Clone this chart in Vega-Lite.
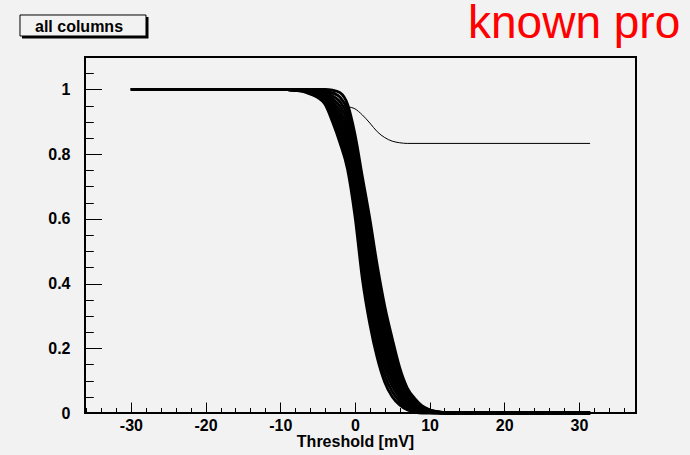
{
  "$schema": "https://vega.github.io/schema/vega-lite/v6.json",
  "width": 551,
  "height": 356,
  "autosize": {"type": "none"},
  "padding": {"left": 85, "top": 57, "right": 54, "bottom": 42},
  "background": "#f2f2f2",
  "config": {
    "view": {"stroke": "black", "strokeWidth": 2, "fill": "#f2f2f2"},
    "axis": {
      "grid": false, "domainColor": "black", "domainWidth": 1,
      "tickColor": "black", "tickWidth": 1,
      "labelFont": "Liberation Sans", "labelFontWeight": "bold", "labelFontSize": 16, "labelColor": "black",
      "titleFont": "Liberation Sans", "titleFontWeight": "bold", "titleFontSize": 16, "titleColor": "black"
    }
  },
  "datasets": {
    "band": [
      {"c":0,"x":-30,"y":1},{"c":1,"x":-30,"y":1},{"c":2,"x":-30,"y":1},{"c":3,"x":-30,"y":1},{"c":4,"x":-30,"y":1},{"c":5,"x":-30,"y":1},{"c":6,"x":-30,"y":1},{"c":7,"x":-30,"y":1},{"c":8,"x":-30,"y":1},{"c":9,"x":-30,"y":1},{"c":10,"x":-30,"y":1},{"c":11,"x":-30,"y":1},
      {"c":0,"x":-10,"y":1},{"c":1,"x":-10,"y":1},{"c":2,"x":-10,"y":1},{"c":3,"x":-10,"y":1},{"c":4,"x":-10,"y":1},{"c":5,"x":-10,"y":1},{"c":6,"x":-10,"y":1},{"c":7,"x":-10,"y":1},{"c":8,"x":-10,"y":1},{"c":9,"x":-10,"y":1},{"c":10,"x":-10,"y":1},{"c":11,"x":-10,"y":1},
      {"c":0,"x":-9,"y":0.999},{"c":1,"x":-9,"y":0.999},{"c":2,"x":-9,"y":0.999},{"c":3,"x":-9,"y":0.999},{"c":4,"x":-9,"y":0.999},{"c":5,"x":-9,"y":0.999},{"c":6,"x":-9,"y":1},{"c":7,"x":-9,"y":1},{"c":8,"x":-9,"y":1},{"c":9,"x":-9,"y":1},{"c":10,"x":-9,"y":1},{"c":11,"x":-9,"y":1},
      {"c":0,"x":-8,"y":0.997},{"c":1,"x":-8,"y":0.997},{"c":2,"x":-8,"y":0.998},{"c":3,"x":-8,"y":0.998},{"c":4,"x":-8,"y":0.998},{"c":5,"x":-8,"y":0.998},{"c":6,"x":-8,"y":0.999},{"c":7,"x":-8,"y":0.999},{"c":8,"x":-8,"y":0.999},{"c":9,"x":-8,"y":0.999},{"c":10,"x":-8,"y":1},{"c":11,"x":-8,"y":1},
      {"c":0,"x":-7,"y":0.994},{"c":1,"x":-7,"y":0.995},{"c":2,"x":-7,"y":0.995},{"c":3,"x":-7,"y":0.996},{"c":4,"x":-7,"y":0.996},{"c":5,"x":-7,"y":0.997},{"c":6,"x":-7,"y":0.997},{"c":7,"x":-7,"y":0.998},{"c":8,"x":-7,"y":0.998},{"c":9,"x":-7,"y":0.999},{"c":10,"x":-7,"y":0.999},{"c":11,"x":-7,"y":1},
      {"c":0,"x":-6,"y":0.986},{"c":1,"x":-6,"y":0.987},{"c":2,"x":-6,"y":0.989},{"c":3,"x":-6,"y":0.99},{"c":4,"x":-6,"y":0.991},{"c":5,"x":-6,"y":0.992},{"c":6,"x":-6,"y":0.994},{"c":7,"x":-6,"y":0.995},{"c":8,"x":-6,"y":0.996},{"c":9,"x":-6,"y":0.997},{"c":10,"x":-6,"y":0.999},{"c":11,"x":-6,"y":1},
      {"c":0,"x":-5,"y":0.975},{"c":1,"x":-5,"y":0.977},{"c":2,"x":-5,"y":0.98},{"c":3,"x":-5,"y":0.982},{"c":4,"x":-5,"y":0.984},{"c":5,"x":-5,"y":0.986},{"c":6,"x":-5,"y":0.989},{"c":7,"x":-5,"y":0.991},{"c":8,"x":-5,"y":0.993},{"c":9,"x":-5,"y":0.995},{"c":10,"x":-5,"y":0.998},{"c":11,"x":-5,"y":1},
      {"c":0,"x":-4,"y":0.954},{"c":1,"x":-4,"y":0.958},{"c":2,"x":-4,"y":0.962},{"c":3,"x":-4,"y":0.967},{"c":4,"x":-4,"y":0.971},{"c":5,"x":-4,"y":0.975},{"c":6,"x":-4,"y":0.979},{"c":7,"x":-4,"y":0.983},{"c":8,"x":-4,"y":0.988},{"c":9,"x":-4,"y":0.992},{"c":10,"x":-4,"y":0.996},{"c":11,"x":-4,"y":1},
      {"c":0,"x":-3,"y":0.9},{"c":1,"x":-3,"y":0.909},{"c":2,"x":-3,"y":0.918},{"c":3,"x":-3,"y":0.927},{"c":4,"x":-3,"y":0.936},{"c":5,"x":-3,"y":0.945},{"c":6,"x":-3,"y":0.953},{"c":7,"x":-3,"y":0.962},{"c":8,"x":-3,"y":0.971},{"c":9,"x":-3,"y":0.98},{"c":10,"x":-3,"y":0.989},{"c":11,"x":-3,"y":0.998},
      {"c":0,"x":-2,"y":0.835},{"c":1,"x":-2,"y":0.849},{"c":2,"x":-2,"y":0.863},{"c":3,"x":-2,"y":0.877},{"c":4,"x":-2,"y":0.891},{"c":5,"x":-2,"y":0.906},{"c":6,"x":-2,"y":0.92},{"c":7,"x":-2,"y":0.934},{"c":8,"x":-2,"y":0.948},{"c":9,"x":-2,"y":0.962},{"c":10,"x":-2,"y":0.976},{"c":11,"x":-2,"y":0.99},
      {"c":0,"x":-1,"y":0.755},{"c":1,"x":-1,"y":0.773},{"c":2,"x":-1,"y":0.791},{"c":3,"x":-1,"y":0.81},{"c":4,"x":-1,"y":0.828},{"c":5,"x":-1,"y":0.846},{"c":6,"x":-1,"y":0.864},{"c":7,"x":-1,"y":0.882},{"c":8,"x":-1,"y":0.901},{"c":9,"x":-1,"y":0.919},{"c":10,"x":-1,"y":0.937},{"c":11,"x":-1,"y":0.955},
      {"c":0,"x":0,"y":0.61},{"c":1,"x":0,"y":0.633},{"c":2,"x":0,"y":0.656},{"c":3,"x":0,"y":0.679},{"c":4,"x":0,"y":0.702},{"c":5,"x":0,"y":0.725},{"c":6,"x":0,"y":0.748},{"c":7,"x":0,"y":0.77},{"c":8,"x":0,"y":0.793},{"c":9,"x":0,"y":0.816},{"c":10,"x":0,"y":0.839},{"c":11,"x":0,"y":0.862},
      {"c":0,"x":1,"y":0.415},{"c":1,"x":1,"y":0.444},{"c":2,"x":1,"y":0.472},{"c":3,"x":1,"y":0.501},{"c":4,"x":1,"y":0.53},{"c":5,"x":1,"y":0.558},{"c":6,"x":1,"y":0.587},{"c":7,"x":1,"y":0.616},{"c":8,"x":1,"y":0.644},{"c":9,"x":1,"y":0.673},{"c":10,"x":1,"y":0.701},{"c":11,"x":1,"y":0.73},
      {"c":0,"x":2,"y":0.275},{"c":1,"x":2,"y":0.305},{"c":2,"x":2,"y":0.334},{"c":3,"x":2,"y":0.364},{"c":4,"x":2,"y":0.393},{"c":5,"x":2,"y":0.423},{"c":6,"x":2,"y":0.452},{"c":7,"x":2,"y":0.482},{"c":8,"x":2,"y":0.511},{"c":9,"x":2,"y":0.541},{"c":10,"x":2,"y":0.57},{"c":11,"x":2,"y":0.6},
      {"c":0,"x":3,"y":0.17},{"c":1,"x":3,"y":0.196},{"c":2,"x":3,"y":0.222},{"c":3,"x":3,"y":0.248},{"c":4,"x":3,"y":0.274},{"c":5,"x":3,"y":0.3},{"c":6,"x":3,"y":0.325},{"c":7,"x":3,"y":0.351},{"c":8,"x":3,"y":0.377},{"c":9,"x":3,"y":0.403},{"c":10,"x":3,"y":0.429},{"c":11,"x":3,"y":0.455},
      {"c":0,"x":4,"y":0.095},{"c":1,"x":4,"y":0.116},{"c":2,"x":4,"y":0.138},{"c":3,"x":4,"y":0.159},{"c":4,"x":4,"y":0.18},{"c":5,"x":4,"y":0.202},{"c":6,"x":4,"y":0.223},{"c":7,"x":4,"y":0.245},{"c":8,"x":4,"y":0.266},{"c":9,"x":4,"y":0.287},{"c":10,"x":4,"y":0.309},{"c":11,"x":4,"y":0.33},
      {"c":0,"x":5,"y":0.05},{"c":1,"x":5,"y":0.066},{"c":2,"x":5,"y":0.083},{"c":3,"x":5,"y":0.099},{"c":4,"x":5,"y":0.115},{"c":5,"x":5,"y":0.132},{"c":6,"x":5,"y":0.148},{"c":7,"x":5,"y":0.165},{"c":8,"x":5,"y":0.181},{"c":9,"x":5,"y":0.197},{"c":10,"x":5,"y":0.214},{"c":11,"x":5,"y":0.23},
      {"c":0,"x":6,"y":0.025},{"c":1,"x":6,"y":0.035},{"c":2,"x":6,"y":0.046},{"c":3,"x":6,"y":0.056},{"c":4,"x":6,"y":0.067},{"c":5,"x":6,"y":0.077},{"c":6,"x":6,"y":0.088},{"c":7,"x":6,"y":0.098},{"c":8,"x":6,"y":0.109},{"c":9,"x":6,"y":0.119},{"c":10,"x":6,"y":0.13},{"c":11,"x":6,"y":0.14},
      {"c":0,"x":7,"y":0.01},{"c":1,"x":7,"y":0.016},{"c":2,"x":7,"y":0.022},{"c":3,"x":7,"y":0.029},{"c":4,"x":7,"y":0.035},{"c":5,"x":7,"y":0.041},{"c":6,"x":7,"y":0.047},{"c":7,"x":7,"y":0.053},{"c":8,"x":7,"y":0.059},{"c":9,"x":7,"y":0.066},{"c":10,"x":7,"y":0.072},{"c":11,"x":7,"y":0.078},
      {"c":0,"x":8,"y":0.003},{"c":1,"x":8,"y":0.007},{"c":2,"x":8,"y":0.011},{"c":3,"x":8,"y":0.015},{"c":4,"x":8,"y":0.018},{"c":5,"x":8,"y":0.022},{"c":6,"x":8,"y":0.026},{"c":7,"x":8,"y":0.03},{"c":8,"x":8,"y":0.034},{"c":9,"x":8,"y":0.037},{"c":10,"x":8,"y":0.041},{"c":11,"x":8,"y":0.045},
      {"c":0,"x":9,"y":0},{"c":1,"x":9,"y":0.002},{"c":2,"x":9,"y":0.004},{"c":3,"x":9,"y":0.006},{"c":4,"x":9,"y":0.008},{"c":5,"x":9,"y":0.01},{"c":6,"x":9,"y":0.012},{"c":7,"x":9,"y":0.014},{"c":8,"x":9,"y":0.016},{"c":9,"x":9,"y":0.018},{"c":10,"x":9,"y":0.02},{"c":11,"x":9,"y":0.022},
      {"c":0,"x":10,"y":0},{"c":1,"x":10,"y":0.001},{"c":2,"x":10,"y":0.002},{"c":3,"x":10,"y":0.003},{"c":4,"x":10,"y":0.004},{"c":5,"x":10,"y":0.005},{"c":6,"x":10,"y":0.005},{"c":7,"x":10,"y":0.006},{"c":8,"x":10,"y":0.007},{"c":9,"x":10,"y":0.008},{"c":10,"x":10,"y":0.009},{"c":11,"x":10,"y":0.01},
      {"c":0,"x":11,"y":0},{"c":1,"x":11,"y":0},{"c":2,"x":11,"y":0.001},{"c":3,"x":11,"y":0.001},{"c":4,"x":11,"y":0.001},{"c":5,"x":11,"y":0.002},{"c":6,"x":11,"y":0.002},{"c":7,"x":11,"y":0.003},{"c":8,"x":11,"y":0.003},{"c":9,"x":11,"y":0.003},{"c":10,"x":11,"y":0.004},{"c":11,"x":11,"y":0.004},
      {"c":0,"x":12,"y":0},{"c":1,"x":12,"y":0},{"c":2,"x":12,"y":0},{"c":3,"x":12,"y":0},{"c":4,"x":12,"y":0},{"c":5,"x":12,"y":0},{"c":6,"x":12,"y":0.001},{"c":7,"x":12,"y":0.001},{"c":8,"x":12,"y":0.001},{"c":9,"x":12,"y":0.001},{"c":10,"x":12,"y":0.001},{"c":11,"x":12,"y":0.001},
      {"c":0,"x":13,"y":0},{"c":1,"x":13,"y":0},{"c":2,"x":13,"y":0},{"c":3,"x":13,"y":0},{"c":4,"x":13,"y":0},{"c":5,"x":13,"y":0},{"c":6,"x":13,"y":0},{"c":7,"x":13,"y":0},{"c":8,"x":13,"y":0},{"c":9,"x":13,"y":0},{"c":10,"x":13,"y":0},{"c":11,"x":13,"y":0},
      {"c":0,"x":31.5,"y":0},{"c":1,"x":31.5,"y":0},{"c":2,"x":31.5,"y":0},{"c":3,"x":31.5,"y":0},{"c":4,"x":31.5,"y":0},{"c":5,"x":31.5,"y":0},{"c":6,"x":31.5,"y":0},{"c":7,"x":31.5,"y":0},{"c":8,"x":31.5,"y":0},{"c":9,"x":31.5,"y":0},{"c":10,"x":31.5,"y":0},{"c":11,"x":31.5,"y":0}
    ],
    "outlier": [
      {"x":-30,"y":1},{"x":-4,"y":1},{"x":-3,"y":0.995},{"x":-2,"y":0.975},{"x":-1,"y":0.949},{"x":0,"y":0.94},
      {"x":1,"y":0.921},{"x":2,"y":0.896},{"x":3,"y":0.869},{"x":4,"y":0.851},{"x":5,"y":0.84},{"x":6,"y":0.835},
      {"x":7,"y":0.833},{"x":31.5,"y":0.833}
    ],
    "labels": [{"label": "all columns"}],
    "note": [{"label": "known pro"}]
  },
  "layer": [
    {
      "data": {"name": "band"},
      "mark": {"type": "line", "color": "black", "strokeWidth": 2.8, "interpolate": "monotone"},
      "encoding": {
        "x": {"field": "x", "type": "quantitative",
              "scale": {"domain": [-36.15, 37.65], "nice": false, "zero": false},
              "axis": {"orient": "bottom", "values": [-30, -20, -10, 0, 10, 20, 30], "tickSize": -11,
                       "labelPadding": 15, "labelExpr": "'' + datum.value", "title": "Threshold [mV]",
                       "titleX": 270, "titleY": 33, "titleAlign": "center", "titleBaseline": "alphabetic"}},
        "y": {"field": "y", "type": "quantitative",
              "scale": {"domain": [0, 1.1], "nice": false, "zero": false},
              "axis": {"orient": "left", "values": [0, 0.2, 0.4, 0.6, 0.8, 1], "tickSize": -16.5,
                       "labelPadding": 31.5, "labelExpr": "format(datum.value, '.1~f')", "title": null}},
        "detail": {"field": "c", "type": "nominal"}
      }
    },
    {
      "data": {"name": "outlier"},
      "mark": {"type": "line", "color": "black", "strokeWidth": 1, "interpolate": "monotone"},
      "encoding": {
        "x": {"field": "x", "type": "quantitative",
              "scale": {"domain": [-36.15, 37.65], "nice": false, "zero": false},
              "axis": {"orient": "bottom", "values": [-36,-34,-32,-30,-28,-26,-24,-22,-20,-18,-16,-14,-12,-10,-8,-6,-4,-2,0,2,4,6,8,10,12,14,16,18,20,22,24,26,28,30,32,34,36],
                       "tickSize": -5.5, "labels": false, "domain": false, "title": null}},
        "y": {"field": "y", "type": "quantitative",
              "scale": {"domain": [0, 1.1], "nice": false, "zero": false},
              "axis": {"orient": "left", "values": [0.05,0.1,0.15,0.2,0.25,0.3,0.35,0.4,0.45,0.5,0.55,0.6,0.65,0.7,0.75,0.8,0.85,0.9,0.95,1,1.05],
                       "tickSize": -8.3, "labels": false, "domain": false, "title": null}}
      }
    },
    {
      "data": {"name": "labels"},
      "mark": {"type": "rect", "fill": "black"},
      "encoding": {
        "x": {"datum": -44.588, "type": "quantitative", "axis": null},
        "x2": {"datum": -27.645},
        "y": {"datum": 1.2236, "type": "quantitative", "axis": null},
        "y2": {"datum": 1.1572}
      }
    },
    {
      "data": {"name": "labels"},
      "mark": {"type": "rect", "fill": "#f2f2f2", "stroke": "black", "strokeWidth": 1},
      "encoding": {
        "x": {"datum": -44.856, "type": "quantitative", "axis": null},
        "x2": {"datum": -27.98},
        "y": {"datum": 1.2298, "type": "quantitative", "axis": null},
        "y2": {"datum": 1.1649}
      }
    },
    {
      "data": {"name": "labels"},
      "mark": {"type": "text", "font": "Liberation Sans", "fontWeight": "bold", "fontSize": 16, "color": "black", "align": "center", "baseline": "alphabetic"},
      "encoding": {
        "x": {"datum": -36.95, "type": "quantitative", "axis": null},
        "y": {"datum": 1.1773, "type": "quantitative", "axis": null},
        "text": {"field": "label"}
      }
    },
    {
      "data": {"name": "note"},
      "mark": {"type": "text", "font": "Liberation Sans", "fontSize": 46, "color": "red", "align": "left", "baseline": "alphabetic"},
      "encoding": {
        "x": {"datum": 15.15, "type": "quantitative", "axis": null},
        "y": {"datum": 1.1572, "type": "quantitative", "axis": null},
        "text": {"field": "label"}
      }
    }
  ],
  "resolve": {"axis": {"x": "independent", "y": "independent"}}
}
